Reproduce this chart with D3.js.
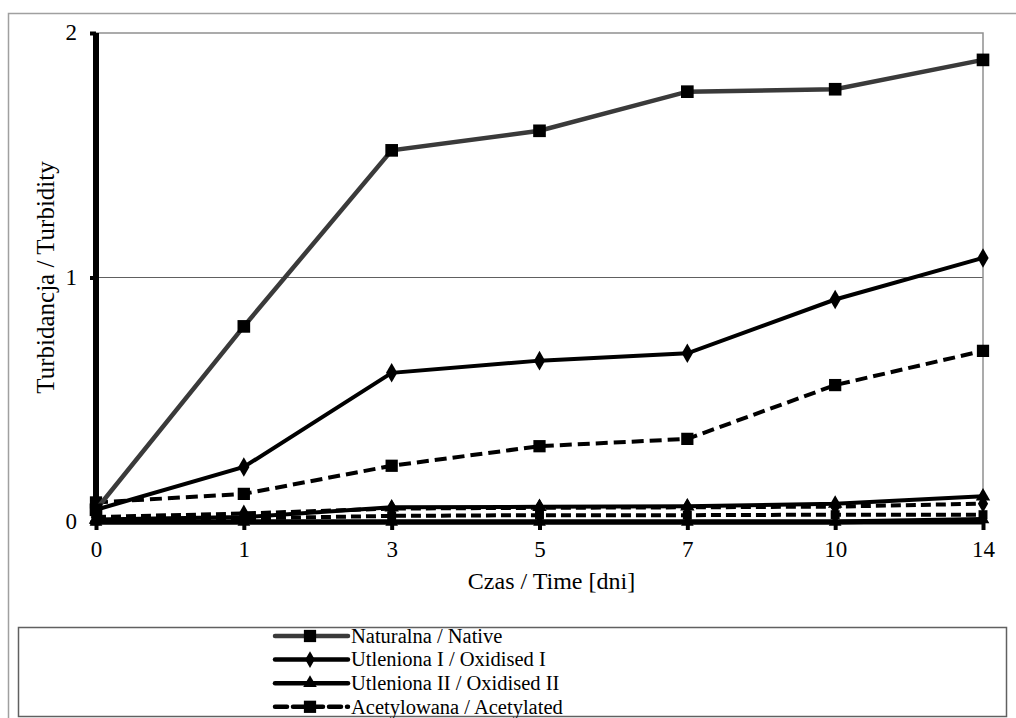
<!DOCTYPE html>
<html><head><meta charset="utf-8">
<script src="https://cdn.jsdelivr.net/npm/d3@7"></script>
<style>body{margin:0;background:#fff}svg{display:block}</style>
</head><body><svg id="c" width="1016" height="718"></svg>
<script>
const categories = ["0","1","3","5","7","10","14"];
const native = [0.05, 0.80, 1.52, 1.60, 1.76, 1.77, 1.89];
const oxidisedI = [0.05, 0.225, 0.61, 0.66, 0.69, 0.91, 1.08];
const oxidisedII = [0.01, 0.02, 0.06, 0.062, 0.064, 0.075, 0.105];
const acetylated = [0.08, 0.115, 0.23, 0.31, 0.34, 0.56, 0.70];
const extraDashedA = [0.02, 0.035, 0.055, 0.058, 0.06, 0.063, 0.075];
const extraDashedB = [0.005, 0.015, 0.025, 0.028, 0.028, 0.03, 0.03];
const extraSolid = [0, 0, 0, 0, 0, 0, 0.01];
const yTicks = [0, 1, 2];
const legendLabels = ["Naturalna / Native","Utleniona I / Oxidised I","Utleniona II / Oxidised II","Acetylowana / Acetylated"];

const FONT = "Liberation Serif";
const svg = d3.select("#c");
const L=96, R=983, T=33, B=522;
const x = d3.scalePoint().domain(categories).range([L,R]);
const y = d3.scaleLinear().domain([0,2]).range([B,T]);

svg.append("rect").attr("x",8.5).attr("y",13.5).attr("width",1020).attr("height",720).attr("fill","none").attr("stroke","#a0a0a0").attr("stroke-width",1.5);

svg.append("line").attr("x1",L).attr("x2",R).attr("y1",y(1)).attr("y2",y(1)).attr("stroke","#606060").attr("stroke-width",1);
svg.append("path").attr("d",`M${L},${y(2)}H${R}V${B}`).attr("fill","none").attr("stroke","#909090").attr("stroke-width",1.5);

const ya = svg.append("g").attr("transform",`translate(${L},0)`).call(d3.axisLeft(y).tickValues(yTicks).tickFormat(d3.format("d")).tickSize(6).tickPadding(13));
ya.attr("font-family",FONT).attr("font-size",23);
ya.select(".domain").attr("stroke","#000").attr("stroke-width",6).attr("d",`M0,${B}V${T}`);
ya.selectAll(".tick line").attr("stroke","#000").attr("stroke-width",4);
ya.selectAll(".tick text").attr("font-family",FONT).attr("font-size",23).attr("fill","#000").attr("dy","0.3em");

const xa = svg.append("g").attr("transform",`translate(0,${B})`).call(d3.axisBottom(x).tickSize(8).tickPadding(11));
xa.attr("font-family",FONT).attr("font-size",23);
xa.select(".domain").attr("stroke","#000").attr("stroke-width",5).attr("d",`M${L},0H${R}`);
xa.selectAll(".tick line").attr("stroke","#000").attr("stroke-width",4);
xa.selectAll(".tick text").attr("font-family",FONT).attr("font-size",23).attr("fill","#000");

svg.append("text").attr("x",(L+R)/2 + 12).attr("y",589).attr("text-anchor","middle").attr("font-family",FONT).attr("font-size",24).text("Czas / Time [dni]");
svg.append("text").attr("transform",`translate(54,${(T+B)/2}) rotate(-90)`).attr("text-anchor","middle").attr("font-family",FONT).attr("font-size",25).text("Turbidancja / Turbidity");

const series = [
  {v: extraSolid, color:"#000", w:5, dash:null, m:"triangle", s:70},
  {v: extraDashedB, color:"#000", w:4, dash:"10,5", m:"square", s:80},
  {v: extraDashedA, color:"#000", w:4, dash:"10,5", m:"diamond", s:90},
  {v: oxidisedII, color:"#000", w:4, dash:null, m:"triangle", s:90},
  {v: acetylated, color:"#000", w:4, dash:"12,6", m:"square", s:150},
  {v: oxidisedI, color:"#000", w:4, dash:null, m:"diamond", s:110},
  {v: native, color:"#3a3a3a", w:4.5, dash:null, m:"square", s:160},
];
const sym = {square:d3.symbolSquare, diamond:d3.symbolDiamond, triangle:d3.symbolTriangle};
const line = d3.line().x((d,i)=>x(categories[i])).y(d=>y(d));
series.forEach(s=>{
  svg.append("path").datum(s.v).attr("d",line).attr("fill","none").attr("stroke",s.color).attr("stroke-width",s.w).attr("stroke-dasharray",s.dash);
  svg.append("g").selectAll("path").data(s.v).join("path")
    .attr("transform",(d,i)=>`translate(${x(categories[i])},${y(d)})`)
    .attr("d",d3.symbol().type(sym[s.m]).size(s.s)).attr("fill","#000");
});

svg.append("rect").attr("x",18.5).attr("y",627.5).attr("width",988).attr("height",89).attr("fill","#fff").attr("stroke","#606060").attr("stroke-width",1.5);
const legStyles = [
  {color:"#3a3a3a", dash:null, m:"square", s:150},
  {color:"#000", dash:null, m:"diamond", s:80},
  {color:"#000", dash:null, m:"triangle", s:80},
  {color:"#000", dash:"12,6", m:"square", s:150},
];
const lg = svg.append("g");
legendLabels.forEach((t,i)=>{
  const cy = 636 + i*23.6;
  lg.append("line").attr("x1",275).attr("x2",348).attr("y1",cy).attr("y2",cy).attr("stroke",legStyles[i].color).attr("stroke-width",4.5).attr("stroke-dasharray",legStyles[i].dash).attr("stroke-linecap","round");
  lg.append("path").attr("transform",`translate(310,${cy})`).attr("d",d3.symbol().type(sym[legStyles[i].m]).size(legStyles[i].s)).attr("fill","#000");
  lg.append("text").attr("x",351).attr("y",cy).attr("dy","0.33em").attr("font-family",FONT).attr("font-size",20.5).text(t);
});
</script></body></html>
